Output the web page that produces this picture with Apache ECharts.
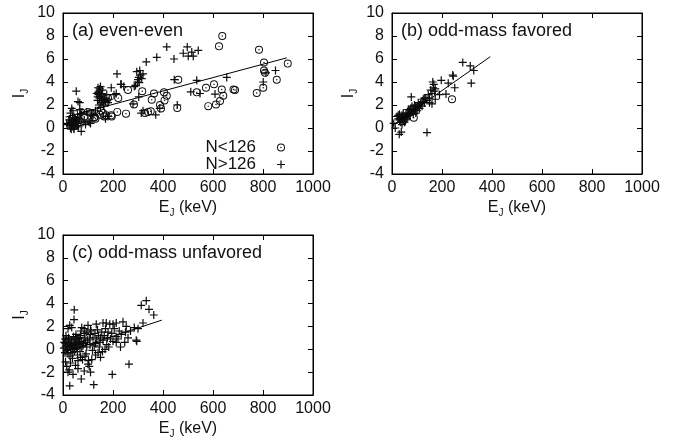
<!DOCTYPE html>
<html>
<head>
<meta charset="utf-8">
<script src="https://cdn.jsdelivr.net/npm/echarts/dist/echarts.min.js"></script>
<style>
  html, body { margin: 0; background: #fff; }
  #chart { width: 676px; height: 438px; }
</style>
</head>
<body>
<div id="chart"></div>
<script>
// ---- data (E_J in keV, I_J) ----
var panelTitles = ['(a) even-even', '(b) odd-mass favored', '(c) odd-mass unfavored'];
var legendNames = ['N<126', 'N>126'];
var xTicks = [0, 1000, 200];   // min, max, step
var yTicks = [-4, 10, 2];

// (a) even-even, N<126
var aCircle = [
  [637,8.0],[624,7.1],[784,6.8],[804,5.7],[899,5.6],[804,5.0],[808,4.8],[855,4.2],[461,4.2],
  [604,3.8],[572,3.5],[635,3.35],[682,3.35],[688,3.3],[801,3.5],[775,3.05],[535,3.1],[641,2.8],
  [628,2.35],[612,2.05],[581,1.9],[457,1.75],[404,3.1],[415,2.8],[364,3.0],[355,2.45],[406,2.4],
  [388,2.0],[392,1.7],[284,2.05],[317,3.2],[260,3.3],[221,2.6],[217,1.4],[252,1.25],[351,1.45],
  [328,1.3],[340,1.4],[195,1.0],[148,1.15],[124,0.9],[111,1.3],[152,1.5],[85,1.0],[72,1.4],
  [160,1.3],[173,1.1],[193,1.1],[130,0.8],[127,0.95],[100,1.4],[47,0.6],[53,0.7],[40,0.4],
  [60,0.5],[35,0.8],[45,0.2],[180,2.6],[170,2.2],[165,1.0]
];
// (a) even-even, N>126
var aPlus = [
  [497,7.05],[481,6.5],[515,6.6],[501,6.25],[521,6.25],[541,6.75],[444,6.0],[415,7.05],[375,6.15],
  [333,5.75],[216,4.7],[231,3.8],[295,4.9],[303,4.4],[300,4.2],[305,3.95],[310,4.6],[315,4.3],
  [320,4.7],[290,3.7],[298,4.0],[307,5.0],[285,3.6],[445,4.2],[535,4.15],[655,4.4],[850,5.0],
  [801,4.0],[812,4.8],[511,3.15],[548,3.0],[608,2.95],[457,2.0],[243,3.6],[193,3.5],[213,3.0],
  [204,2.9],[233,3.8],[280,2.1],[303,2.7],[313,1.3],[387,1.7],[371,1.15],[320,1.5],
  [140,3.5],[145,3.2],[150,3.6],[142,2.9],[148,2.7],[155,3.0],[160,2.5],[138,2.4],[152,2.2],
  [165,2.4],[158,3.3],[144,2.0],[150,1.8],[162,2.0],[170,2.3],[175,2.9],[146,2.6],[153,2.8],
  [135,3.0],[168,2.6],[180,2.2],[185,2.5],[141,3.1],[147,3.4],[156,2.4],[139,2.7],
  [53,3.2],[60,2.3],[67,2.2],[67,1.6],[73,-0.3],[20,0.3],[30,0.0],[35,0.5],[40,0.1],[45,0.9],
  [25,0.7],[50,0.4],[55,0.6],[60,0.2],[65,0.8],[70,1.2],[30,1.3],[80,0.5],[90,0.3],[100,0.6],
  [110,0.4],[120,1.1],[35,1.7],[40,1.5],[75,1.2],[95,1.4],[15,0.4],[28,0.2],[42,0.3],[48,0.6],
  [38,0.9],[58,0.9],[62,0.1],[44,-0.1],[33,-0.1],[85,0.6],[105,0.5],[115,1.2],[130,1.5],
  [170,0.8],[180,1.0],[36,0.3],[46,0.5],[52,0.2],[39,0.7],[31,0.5],[57,0.4],[43,0.0],[49,0.8]
];
var aFit = [[10,0.95],[895,6.1]];

// (b) odd-mass favored
var bCircle = [[240,2.5],[87,0.9]];
var bPlus = [
  [283,5.7],[313,5.4],[327,5.0],[317,3.9],[243,4.6],[245,4.5],[197,4.15],[163,4.0],[167,3.8],
  [225,3.9],[251,3.5],[216,2.95],[173,3.4],[77,2.7],[173,2.5],[160,2.1],[140,-0.4],[29,-0.55],
  [37,-0.35],[13,0.0],[7,0.4],[150,2.6],[160,3.0],[155,3.3],[165,3.5],[170,3.2],[140,2.4],
  [130,2.2],[120,2.3],[115,2.1],[110,2.0],[105,1.9],[100,1.8],[95,1.6],[90,1.5],[85,1.7],
  [80,1.4],[75,1.3],[70,1.5],[65,1.2],[60,1.0],[55,1.1],[50,0.9],[45,1.0],[40,0.8],[35,0.9],
  [30,0.7],[25,0.8],[20,1.0],[30,1.2],[40,1.1],[45,0.6],[50,0.5],[55,0.7],[60,1.3],[65,1.6],
  [70,1.1],[80,1.9],[85,1.2],[90,2.0],[95,1.3],[100,1.5],[105,2.2],[110,1.7],[125,2.5],
  [135,2.6],[145,2.9],[150,2.2],[120,1.9],[40,0.3],[35,0.5],[25,1.1],[45,1.3],[60,0.8],
  [75,1.7],[95,1.9],[190,2.9],[129,2.6]
];
var bFit = [[0,0.2],[393,6.2]];

// (c) odd-mass unfavored
var cPlus = [
  [333,4.25],[313,3.85],[344,3.5],[363,3.0],[45,3.45],[44,2.6],[293,0.8],[295,0.7],[264,-1.3],
  [197,-2.2],[123,-3.1],[27,-3.2],[73,-2.6],[20,-2.0],[15,-1.5],[25,-1.8],[50,-1.4],[60,-1.7],
  [85,-1.9],[100,-1.3],[105,-1.5],[110,-2.0],[40,-2.2],[10,-1.1],
  [27,2.1],[35,1.9],[20,1.8],[75,1.9],[85,1.8],[100,2.1],[110,1.7],[133,2.2],[160,2.3],
  [173,2.3],[187,2.2],[200,2.2],[213,2.3],[240,2.4],[253,2.0],[300,1.8],[320,2.3],[225,1.6],
  [180,1.5],[213,1.1],[220,0.9],[247,0.6],[213,0.6],[233,1.3],[200,0.7],[190,0.9],[175,0.4],
  [160,0.8],[150,1.0],[145,0.2],[140,-0.3],[130,0.5],[120,1.0],[110,1.3],[105,0.9],[95,1.5],
  [90,0.6],[85,1.0],[80,0.3],[75,0.7],[70,1.2],[65,0.4],[60,0.9],[55,0.2],[50,0.6],[45,-0.2],
  [40,0.3],[35,0.8],[30,0.1],[25,0.5],[20,-0.4],[15,0.9],[10,0.2],[5,0.6],[8,-0.3],[12,1.2],
  [18,0.0],[22,1.0],[28,-0.6],[32,0.4],[38,-0.8],[42,1.1],[48,0.0],[52,1.3],[58,-0.5],
  [62,0.7],[68,-0.2],[72,1.6],[78,-0.9],[82,0.5],[88,1.4],[92,-0.4],[98,0.8],[102,-1.0],
  [108,0.4],[112,1.6],[118,-0.1],[125,0.3],[128,1.4],[135,0.9],[138,1.7],[142,1.2],[148,0.6],
  [155,1.5],[158,-0.2],[165,1.2],[168,0.0],[170,1.8],[178,1.0],[183,0.2],[195,1.4],[205,1.8],
  [230,0.2],[250,1.5],[260,1.0],[270,1.6],[285,1.9],[150,-0.7],[130,-0.5],[115,-0.9],
  [60,-1.0],[30,-1.2],[70,-0.7],[20,0.6],[35,0.3],[45,0.5],[55,0.9],[65,1.0],[75,0.2],
  [10,0.5],[15,-0.1],[25,0.2],[40,0.0],[50,1.0],[8,0.9],[3,0.1],[33,0.6],[47,0.3],[57,0.1],
  [67,0.6],[24,0.9],[13,0.3],[37,-0.3],[95,0.2],[88,-0.6]
];
var cFit = [[0,-0.3],[395,2.55]];

// ---- chart ----
var FONT = '"Liberation Sans", Arial, Helvetica, sans-serif';
var INK = '#111';
var circleSym = 'path://M10,0 A10,10 0 1,1 -10,0 A10,10 0 1,1 10,0 Z M7.6,0 A7.6,7.6 0 1,0 -7.6,0 A7.6,7.6 0 1,0 7.6,0 Z M1.8,0 A1.8,1.8 0 1,1 -1.8,0 A1.8,1.8 0 1,1 1.8,0 Z';
var plusSym = 'path://M-0.75,-5 L0.75,-5 L0.75,-0.75 L5,-0.75 L5,0.75 L0.75,0.75 L0.75,5 L-0.75,5 L-0.75,0.75 L-5,0.75 L-5,-0.75 L-0.75,-0.75 Z';

var grids = [
  { left: 63, top: 13, width: 250, height: 161 },
  { left: 392, top: 13, width: 250, height: 161 },
  { left: 63, top: 235, width: 250, height: 160 }
];
var titlePos = [[67, 17], [396, 17], [67, 239]];

var subRich = {
  s: { fontSize: 10, fontFamily: FONT, color: INK, padding: [10, 0, 0, 0] }
};
function plain(v) { return String(v); }

var xAxes = [], yAxes = [], titles = [];
grids.forEach(function (g, i) {
  g.show = true;
  g.borderColor = '#000';
  g.borderWidth = 1;
  g.backgroundColor = 'transparent';
  g.outerBoundsMode = 'none';
  g.containLabel = false;

  titles.push({
    text: panelTitles[i],
    left: titlePos[i][0], top: titlePos[i][1],
    textStyle: { fontSize: 18, fontWeight: 'normal', color: INK, fontFamily: FONT }
  });

  var tickCommon = { show: true, inside: true, length: 5, lineStyle: { color: '#000', width: 1 } };
  // bottom x
  xAxes.push({
    gridIndex: i, type: 'value', position: 'bottom',
    min: xTicks[0], max: xTicks[1], interval: xTicks[2],
    axisLine: { show: true, onZero: false, lineStyle: { color: '#000', width: 1 } },
    axisTick: tickCommon,
    splitLine: { show: false },
    axisLabel: { fontSize: 16, color: INK, fontFamily: FONT, margin: 6, formatter: plain,
                 showMinLabel: true, showMaxLabel: true },
    name: 'E{s|J} (keV)', nameLocation: 'middle', nameGap: 24,
    nameTextStyle: { fontSize: 16, color: INK, fontFamily: FONT, rich: subRich }
  });
  // top x (mirror ticks)
  xAxes.push({
    gridIndex: i, type: 'value', position: 'top',
    min: xTicks[0], max: xTicks[1], interval: xTicks[2],
    axisLine: { show: true, onZero: false, lineStyle: { color: '#000', width: 1 } },
    axisTick: tickCommon, axisLabel: { show: false }, splitLine: { show: false }
  });
  // left y
  yAxes.push({
    gridIndex: i, type: 'value', position: 'left',
    min: yTicks[0], max: yTicks[1], interval: yTicks[2],
    axisLine: { show: true, onZero: false, lineStyle: { color: '#000', width: 1 } },
    axisTick: tickCommon,
    splitLine: { show: false },
    axisLabel: { fontSize: 16, color: INK, fontFamily: FONT, margin: 8, formatter: plain,
                 showMinLabel: true, showMaxLabel: true },
    name: 'I{s|J}', nameLocation: 'middle', nameGap: 33, nameRotate: 90,
    nameTextStyle: { fontSize: 16, color: INK, fontFamily: FONT, rich: subRich }
  });
  // right y (mirror ticks)
  yAxes.push({
    gridIndex: i, type: 'value', position: 'right',
    min: yTicks[0], max: yTicks[1], interval: yTicks[2],
    axisLine: { show: true, onZero: false, lineStyle: { color: '#000', width: 1 } },
    axisTick: tickCommon, axisLabel: { show: false }, splitLine: { show: false }
  });
});

function scatter(name, data, sym, panel, size) {
  return {
    name: name, type: 'scatter', data: data,
    xAxisIndex: panel * 2, yAxisIndex: panel * 2,
    symbol: sym, symbolSize: size,
    itemStyle: { color: '#0d0d0d', opacity: 1 },
    emphasis: { disabled: true }, silent: true
  };
}
function fit(data, panel) {
  return {
    name: 'fit' + panel, type: 'line', data: data,
    xAxisIndex: panel * 2, yAxisIndex: panel * 2,
    showSymbol: false, symbol: 'none',
    lineStyle: { color: '#000', width: 1 }, z: 5, silent: true
  };
}

var option = {
  animation: false,
  backgroundColor: '#fff',
  textStyle: { fontFamily: FONT },
  title: titles,
  grid: grids,
  xAxis: xAxes,
  yAxis: yAxes,
  legend: {
    data: [
      { name: legendNames[0], icon: circleSym },
      { name: legendNames[1], icon: plusSym }
    ],
    orient: 'vertical', align: 'right',
    right: 676 - 285, top: 139,
    itemWidth: 8, itemHeight: 8, itemGap: 0, padding: 0,
    selectedMode: false,
    textStyle: { fontSize: 17, color: INK, fontFamily: FONT, padding: [0, 16, 0, 0], lineHeight: 13 }
  },
  series: [
    scatter(legendNames[0], aCircle, circleSym, 0, 8),
    scatter(legendNames[1], aPlus, plusSym, 0, 8),
    fit(aFit, 0),
    scatter(legendNames[0], bCircle, circleSym, 1, 8),
    scatter(legendNames[1], bPlus, plusSym, 1, 8),
    fit(bFit, 1),
    scatter(legendNames[1], cPlus, plusSym, 2, 8),
    fit(cFit, 2)
  ]
};

var chart = echarts.init(document.getElementById('chart'));
chart.setOption(option);
</script>
</body>
</html>
